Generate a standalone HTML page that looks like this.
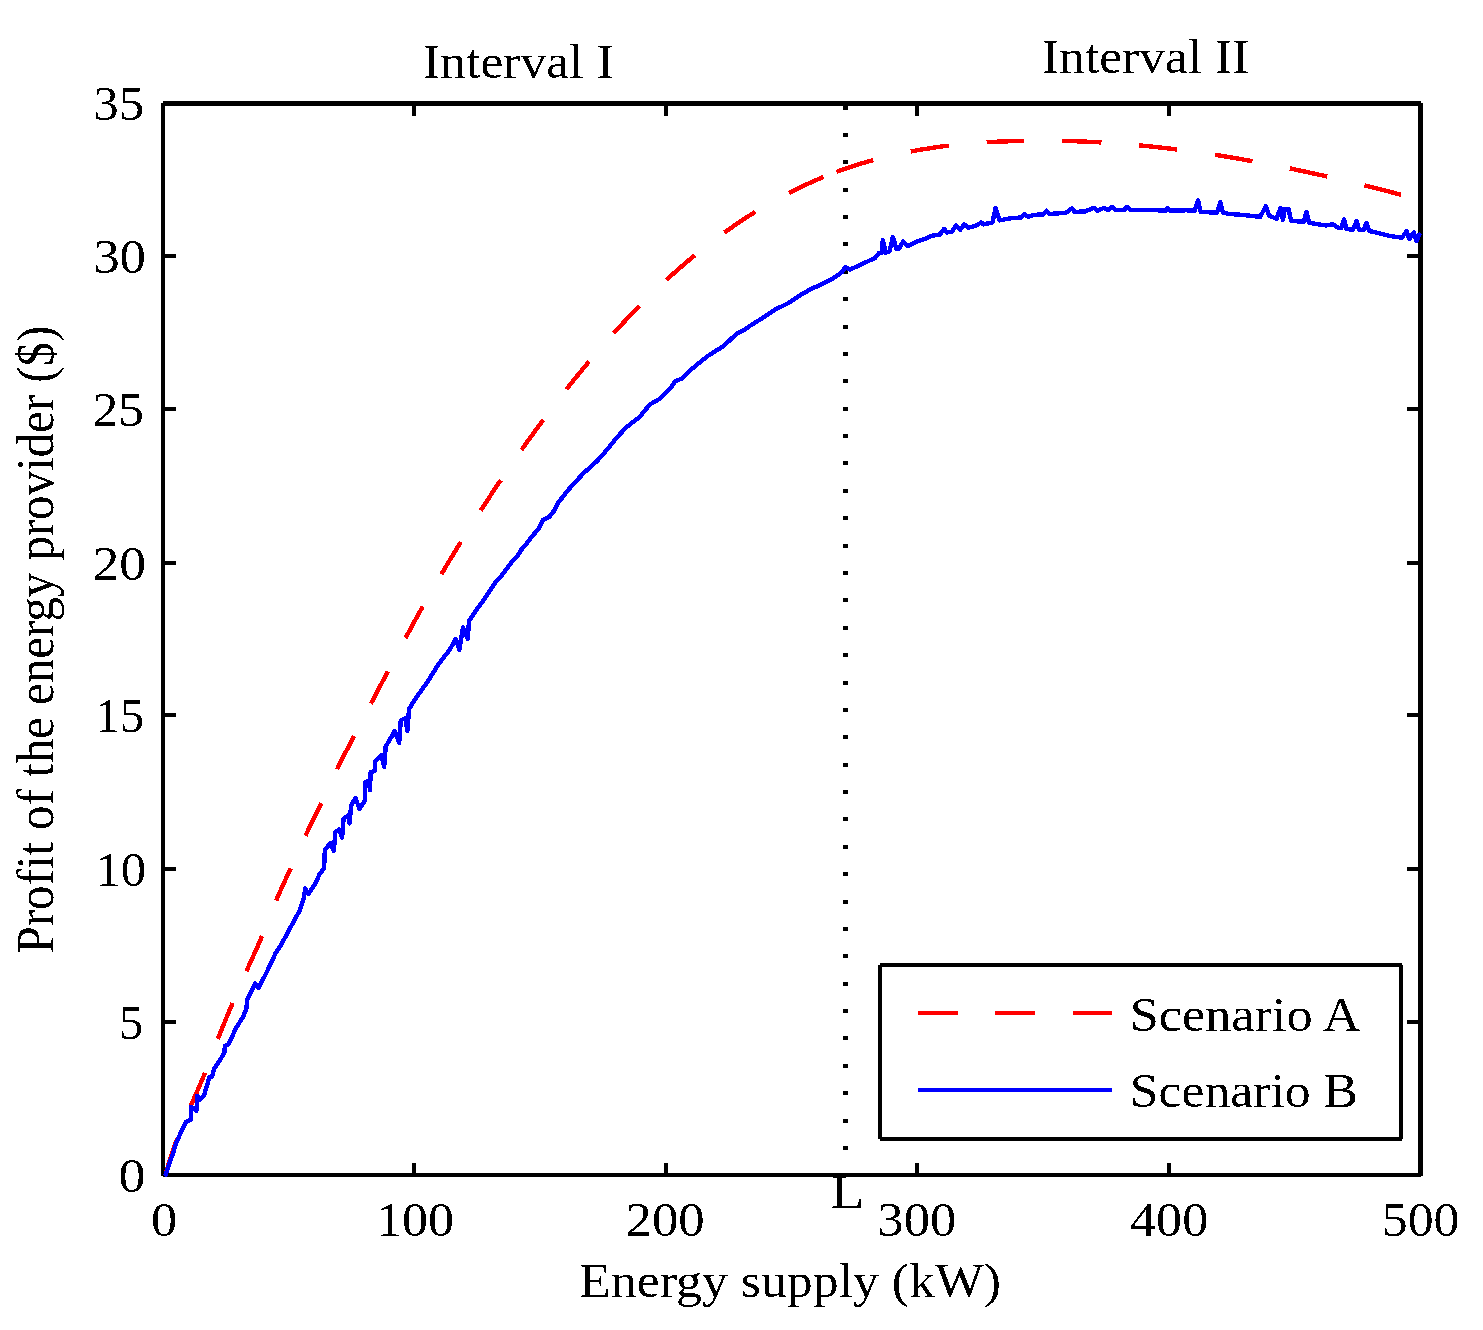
<!DOCTYPE html>
<html><head><meta charset="utf-8"><title>Profit of the energy provider</title>
<style>html,body{margin:0;padding:0;background:#fff;width:1483px;height:1330px;overflow:hidden}</style>
</head><body>
<svg width="1483" height="1330" viewBox="0 0 1483 1330" style="display:block">
<defs><filter id="bin" x="0" y="0" width="1" height="1" color-interpolation-filters="sRGB"><feComponentTransfer><feFuncA type="discrete" tableValues="0 1"/></feComponentTransfer></filter></defs>
<rect width="1483" height="1330" fill="#fff"/>
<g fill="#000" shape-rendering="crispEdges">
<rect x="163" y="101" width="1258" height="5"/>
<rect x="163" y="1173" width="1258" height="4"/>
<rect x="161" y="103" width="4" height="1073"/>
<rect x="1418" y="103" width="5" height="1073"/>
<rect x="412" y="1163" width="4" height="10"/>
<rect x="412" y="106" width="4" height="10"/>
<rect x="664" y="1163" width="4" height="10"/>
<rect x="664" y="106" width="4" height="10"/>
<rect x="915" y="1163" width="4" height="10"/>
<rect x="915" y="106" width="4" height="10"/>
<rect x="1167" y="1163" width="4" height="10"/>
<rect x="1167" y="106" width="4" height="10"/>
<rect x="165" y="1020" width="11" height="4"/>
<rect x="1407" y="1020" width="11" height="4"/>
<rect x="165" y="867" width="11" height="4"/>
<rect x="1407" y="867" width="11" height="4"/>
<rect x="165" y="713" width="11" height="4"/>
<rect x="1407" y="713" width="11" height="4"/>
<rect x="165" y="561" width="11" height="4"/>
<rect x="1407" y="561" width="11" height="4"/>
<rect x="165" y="407" width="11" height="4"/>
<rect x="1407" y="407" width="11" height="4"/>
<rect x="165" y="254" width="11" height="4"/>
<rect x="1407" y="254" width="11" height="4"/>
<rect x="843" y="105.5" width="5" height="4"/>
<rect x="843" y="132.9" width="5" height="4"/>
<rect x="843" y="160.3" width="5" height="4"/>
<rect x="843" y="187.6" width="5" height="4"/>
<rect x="843" y="215.0" width="5" height="4"/>
<rect x="843" y="242.4" width="5" height="4"/>
<rect x="843" y="269.8" width="5" height="4"/>
<rect x="843" y="297.2" width="5" height="4"/>
<rect x="843" y="324.5" width="5" height="4"/>
<rect x="843" y="351.9" width="5" height="4"/>
<rect x="843" y="379.3" width="5" height="4"/>
<rect x="843" y="406.7" width="5" height="4"/>
<rect x="843" y="434.1" width="5" height="4"/>
<rect x="843" y="461.4" width="5" height="4"/>
<rect x="843" y="488.8" width="5" height="4"/>
<rect x="843" y="516.2" width="5" height="4"/>
<rect x="843" y="543.6" width="5" height="4"/>
<rect x="843" y="571.0" width="5" height="4"/>
<rect x="843" y="598.3" width="5" height="4"/>
<rect x="843" y="625.7" width="5" height="4"/>
<rect x="843" y="653.1" width="5" height="4"/>
<rect x="843" y="680.5" width="5" height="4"/>
<rect x="843" y="707.9" width="5" height="4"/>
<rect x="843" y="735.2" width="5" height="4"/>
<rect x="843" y="762.6" width="5" height="4"/>
<rect x="843" y="790.0" width="5" height="4"/>
<rect x="843" y="817.4" width="5" height="4"/>
<rect x="843" y="844.8" width="5" height="4"/>
<rect x="843" y="872.1" width="5" height="4"/>
<rect x="843" y="899.5" width="5" height="4"/>
<rect x="843" y="926.9" width="5" height="4"/>
<rect x="843" y="954.3" width="5" height="4"/>
<rect x="843" y="981.7" width="5" height="4"/>
<rect x="843" y="1009.0" width="5" height="4"/>
<rect x="843" y="1036.4" width="5" height="4"/>
<rect x="843" y="1063.8" width="5" height="4"/>
<rect x="843" y="1091.2" width="5" height="4"/>
<rect x="843" y="1118.6" width="5" height="4"/>
<rect x="843" y="1145.9" width="5" height="4"/>
<rect x="843" y="1173.3" width="5" height="4"/>
</g>
<path d="M165.3,1175.4 L167.0,1169.4 L168.7,1163.8 L170.4,1158.3 L172.1,1153.1 L173.8,1148.1 L175.5,1143.3 L177.2,1138.6 M190.7,1105.9 L192.7,1101.3 L194.8,1096.7 L196.8,1092.1 L198.9,1087.4 L200.9,1082.6 L203.0,1077.8 L205.0,1072.7 M217.9,1039.0 L220.0,1033.6 L222.1,1028.3 L224.2,1023.2 L226.3,1018.1 L228.4,1013.0 L230.5,1008.0 L232.6,1003.1 M246.3,971.3 L248.6,966.4 L250.8,961.4 L253.1,956.5 L255.3,951.6 L257.6,946.6 L259.8,941.4 L262.1,936.0 M276.2,900.5 L278.3,895.6 L280.4,890.8 L282.5,886.2 L284.5,881.7 L286.6,877.2 L288.7,872.7 L290.8,868.2 M305.5,835.7 L307.8,830.9 L310.0,826.3 L312.3,821.7 L314.5,817.1 L316.8,812.6 L319.0,808.0 L321.3,803.3 M337.1,769.3 L339.5,764.3 L341.9,759.5 L344.3,754.7 L346.8,750.0 L349.2,745.4 L351.6,740.7 L354.0,736.1 M370.9,703.7 L373.3,699.1 L375.7,694.5 L378.1,689.8 L380.6,685.2 L383.0,680.6 L385.4,676.0 L387.8,671.4 M405.5,638.0 L408.0,633.5 L410.4,628.9 L412.9,624.4 L415.3,619.9 L417.8,615.5 L420.2,611.0 L422.7,606.6 M441.3,574.3 L444.1,569.6 L446.9,564.9 L449.7,560.2 L452.5,555.6 L455.3,551.0 L458.1,546.4 L460.9,541.9 M480.8,510.4 L483.7,506.0 L486.5,501.6 L489.4,497.3 L492.2,492.9 L495.1,488.6 L497.9,484.3 L500.8,480.1 M521.4,450.1 L524.5,445.7 L527.6,441.3 L530.7,437.0 L533.9,432.7 L537.0,428.4 L540.1,424.1 L543.2,419.9 M566.5,389.3 L569.7,385.2 L572.9,381.2 L576.1,377.2 L579.4,373.2 L582.6,369.3 L585.8,365.4 L589.0,361.6 M613.7,333.2 L617.4,329.1 L621.1,325.1 L624.8,321.2 L628.4,317.3 L632.1,313.4 L635.8,309.6 L639.5,305.9 M666.5,279.9 L670.5,276.2 L674.6,272.6 L678.6,269.0 L682.6,265.6 L686.6,262.1 L690.7,258.7 L694.7,255.4 M724.5,232.5 L728.9,229.4 L733.3,226.3 L737.7,223.3 L742.0,220.4 L746.4,217.5 L750.8,214.7 L755.2,212.0 M789.0,192.9 L793.9,190.4 L798.9,188.0 L803.8,185.6 L808.7,183.4 L813.6,181.2 L818.6,179.0 L823.5,177.0 M836.5,171.9 L841.7,170.0 L847.0,168.2 L852.2,166.4 L857.5,164.7 L862.7,163.1 L868.0,161.6 L873.2,160.1 M910.7,151.5 L916.1,150.5 L921.6,149.5 L927.0,148.7 L932.4,147.8 L937.8,147.1 L943.3,146.3 L948.7,145.7 M986.6,142.3 L992.0,142.0 L997.4,141.7 L1002.8,141.5 L1008.2,141.3 L1013.6,141.1 L1019.0,140.9 L1024.4,140.8 M1062.4,140.9 L1068.0,141.0 L1073.6,141.2 L1079.2,141.4 L1084.7,141.6 L1090.3,141.9 L1095.9,142.1 L1101.5,142.5 M1139.1,145.3 L1144.5,145.9 L1149.9,146.4 L1155.3,147.0 L1160.7,147.6 L1166.1,148.2 L1171.5,148.8 L1176.9,149.5 M1215.0,154.9 L1220.3,155.7 L1225.7,156.6 L1231.0,157.4 L1236.4,158.3 L1241.7,159.3 L1247.1,160.2 L1252.4,161.2 M1289.8,168.4 L1295.1,169.5 L1300.5,170.7 L1305.8,171.8 L1311.2,173.0 L1316.5,174.1 L1321.9,175.3 L1327.2,176.5 M1364.3,185.4 L1369.6,186.7 L1374.8,188.0 L1380.1,189.3 L1385.3,190.7 L1390.6,192.0 L1395.8,193.4 L1401.1,194.8" fill="none" stroke="#ff0000" stroke-width="4.4" stroke-linecap="butt" stroke-linejoin="round" shape-rendering="crispEdges"/>
<polyline points="165.6,1174.6 169.3,1163.4 172.6,1154.7 176.6,1141.8 182.3,1129.5 186.0,1122.0 191.2,1119.2 191.2,1107.0 196.4,1110.8 197.3,1095.7 200.1,1099.5 203.9,1095.7 209.5,1076.9 212.0,1076.5 214.3,1068.6 220.0,1060.0 224.3,1052.9 225.0,1045.7 228.6,1044.3 235.7,1028.6 242.9,1017.1 246.4,1008.6 247.1,1000.0 252.9,988.6 255.0,983.6 258.6,987.9 267.1,971.4 275.7,952.9 281.4,944.3 292.9,922.9 300.0,910.0 303.8,898.5 305.3,888.5 308.3,894.0 315.0,884.2 319.5,874.4 324.1,868.4 324.8,850.4 330.1,843.1 333.8,851.1 335.3,832.3 339.1,829.6 342.1,837.6 343.6,818.8 348.1,815.3 349.6,823.3 351.1,805.3 355.6,798.0 359.4,809.0 364.7,800.8 365.4,782.0 369.2,780.7 369.9,790.2 370.7,772.2 375.2,770.7 375.2,761.7 381.2,755.1 384.2,766.9 385.7,746.6 394.7,731.1 399.2,742.9 400.8,720.3 405.3,718.3 407.5,730.8 409.0,709.0 416.1,697.8 428.1,681.0 437.7,665.4 449.7,649.7 455.7,638.9 459.4,649.7 463.0,627.5 467.8,638.9 469.0,620.9 470.4,619.1 476.2,610.1 483.5,600.2 490.7,589.4 496.1,581.2 501.5,575.8 506.9,568.6 511.4,562.3 516.9,556.9 521.4,549.6 526.8,543.3 532.2,536.1 538.5,528.9 543.0,519.9 549.4,516.7 554.8,509.9 557.5,503.6 568.7,489.4 583.8,472.9 597.3,460.8 607.8,448.8 616.8,437.5 626.6,427.0 639.4,417.2 649.9,404.4 659.0,399.2 669.5,389.4 675.5,381.1 681.3,378.8 692.1,368.7 707.0,356.5 716.4,350.5 723.2,346.4 733.9,336.3 736.6,333.6 744.7,329.6 751.5,324.8 763.6,317.4 774.4,310.0 787.9,303.3 801.4,294.5 810.8,289.1 823.0,283.7 832.4,279.0 841.8,272.3 845.2,266.9 849.9,269.6 864.8,262.8 875.2,257.8 879.2,252.7 881.7,253.2 882.8,240.0 885.8,252.7 889.3,251.7 892.9,237.0 896.4,248.7 898.9,248.7 903.0,241.6 907.5,246.1 915.6,242.1 925.7,238.5 930.8,236.0 939.9,234.5 944.0,228.9 947.0,232.5 952.0,231.5 956.1,225.4 960.1,230.0 964.2,224.4 968.2,227.9 976.3,225.4 981.4,222.4 983.4,224.4 992.5,222.4 995.5,208.2 999.6,220.3 1010.1,218.4 1021.2,217.4 1024.3,213.9 1028.3,216.9 1033.4,214.9 1043.5,214.4 1046.5,210.8 1049.6,213.9 1065.7,212.9 1071.8,208.3 1074.8,211.9 1085.0,211.4 1094.1,207.8 1097.1,210.8 1104.2,207.8 1108.2,210.3 1112.3,206.8 1115.3,209.8 1124.4,209.8 1126.9,206.8 1130.5,209.8 1150.0,209.8 1165.2,210.8 1167.7,208.3 1170.0,210.5 1186.4,210.3 1194.5,210.8 1198.0,200.2 1200.6,211.8 1216.8,212.8 1220.3,202.2 1222.8,212.3 1227.9,213.8 1241.0,214.8 1251.1,215.8 1260.2,216.9 1265.8,206.2 1268.8,215.3 1276.4,218.9 1280.5,208.2 1283.0,219.9 1284.5,209.3 1288.6,209.3 1291.1,220.9 1303.7,221.8 1306.4,212.0 1309.1,222.8 1317.3,224.1 1326.4,225.5 1332.8,224.1 1338.2,227.8 1341.4,227.8 1344.2,219.3 1346.4,228.7 1352.8,230.0 1356.5,221.1 1359.2,230.0 1363.7,230.0 1366.5,222.9 1369.2,231.0 1381.0,233.7 1390.1,236.0 1402.0,237.8 1406.5,231.1 1409.3,239.1 1413.8,232.5 1416.5,241.0 1419.3,234.7" fill="none" stroke="#0000ff" stroke-width="4.4" stroke-linejoin="round" stroke-linecap="round" shape-rendering="crispEdges"/>
<g shape-rendering="crispEdges"><rect x="880" y="965" width="521" height="174" fill="#fff"/><rect x="880" y="963" width="522" height="4"/><rect x="880" y="1137" width="522" height="4"/><rect x="878" y="965" width="4" height="174"/><rect x="1399" y="965" width="4" height="174"/></g>
<g shape-rendering="crispEdges"><rect x="918" y="1011" width="40" height="4" fill="#ff0000"/><rect x="995" y="1011" width="40" height="4" fill="#ff0000"/><rect x="1073" y="1011" width="39" height="4" fill="#ff0000"/>
<rect x="918" y="1088" width="194" height="4" fill="#0000ff"/></g>
<g font-family="'Liberation Serif', serif" fill="#000" filter="url(#bin)">
<text x="423.09" y="78.10" font-size="49.3" textLength="190.58" lengthAdjust="spacingAndGlyphs">Interval I</text>
<text x="1042.00" y="73.20" font-size="49.3" textLength="207.43" lengthAdjust="spacingAndGlyphs">Interval II</text>
<text x="579.35" y="1297.30" font-size="49.3" textLength="421.70" lengthAdjust="spacingAndGlyphs">Energy supply (kW)</text>
<text x="1129.70" y="1030.90" font-size="49.3" textLength="230.89" lengthAdjust="spacingAndGlyphs">Scenario A</text>
<text x="1129.74" y="1107.40" font-size="49.3" textLength="228.32" lengthAdjust="spacingAndGlyphs">Scenario B</text>
<text x="830.32" y="1207.80" font-size="49.3" textLength="34.18" lengthAdjust="spacingAndGlyphs">L</text>
<text x="93.36" y="119.90" font-size="48.5" textLength="50.77" lengthAdjust="spacingAndGlyphs">35</text>
<text x="93.15" y="273.30" font-size="48.5" textLength="52.97" lengthAdjust="spacingAndGlyphs">30</text>
<text x="92.58" y="426.30" font-size="48.5" textLength="51.58" lengthAdjust="spacingAndGlyphs">25</text>
<text x="92.49" y="580.30" font-size="48.5" textLength="53.66" lengthAdjust="spacingAndGlyphs">20</text>
<text x="95.53" y="732.30" font-size="48.5" textLength="48.51" lengthAdjust="spacingAndGlyphs">15</text>
<text x="95.34" y="886.30" font-size="48.5" textLength="50.69" lengthAdjust="spacingAndGlyphs">10</text>
<text x="118.86" y="1039.30" font-size="48.5" textLength="24.50" lengthAdjust="spacingAndGlyphs">5</text>
<text x="118.44" y="1191.80" font-size="48.5" textLength="27.02" lengthAdjust="spacingAndGlyphs">0</text>
<text x="150.90" y="1236.00" font-size="48.5" textLength="26.31" lengthAdjust="spacingAndGlyphs">0</text>
<text x="375.92" y="1236.00" font-size="48.5" textLength="77.96" lengthAdjust="spacingAndGlyphs">100</text>
<text x="625.52" y="1236.00" font-size="48.5" textLength="79.19" lengthAdjust="spacingAndGlyphs">200</text>
<text x="877.37" y="1236.00" font-size="48.5" textLength="79.04" lengthAdjust="spacingAndGlyphs">300</text>
<text x="1129.96" y="1236.00" font-size="48.5" textLength="78.33" lengthAdjust="spacingAndGlyphs">400</text>
<text x="1381.80" y="1236.00" font-size="48.5" textLength="77.57" lengthAdjust="spacingAndGlyphs">500</text>
<text transform="translate(53.1,951.9) rotate(-90)" x="-1.47" y="0" font-size="52" textLength="627.72" lengthAdjust="spacingAndGlyphs">Profit of the energy provider ($)</text>
</g>
</svg>
</body></html>
